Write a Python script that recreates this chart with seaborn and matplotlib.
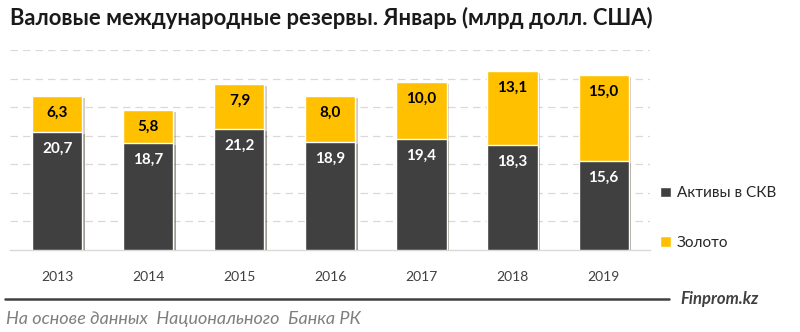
import matplotlib
matplotlib.use("Agg")
import matplotlib.pyplot as plt
import matplotlib.patheffects as pe
import seaborn as sns
import pandas as pd
import numpy as np

years = ["2013", "2014", "2015", "2016", "2017", "2018", "2019"]
assets = [20.7, 18.7, 21.2, 18.9, 19.4, 18.3, 15.6]
gold = [6.3, 5.8, 7.9, 8.0, 10.0, 13.1, 15.0]
series_names = ["Активы в СКВ", "Золото"]
title = "Валовые международные резервы. Январь (млрд долл. США)"
source = "На основе данных  Национального  Банка РК"
brand = "Finprom.kz"

c_dark = "#404040"
c_gold = "#FFC000"

sns.set_theme(style="white")
plt.rcParams["font.family"] = ["Lato", "DejaVu Sans"]

df = pd.DataFrame({"year": years, "assets": assets, "gold": gold})
df["total"] = df["assets"] + df["gold"]

fig = plt.figure(figsize=(8, 3.32), dpi=100)
ax = fig.add_axes([0.0125, 0.247, 0.80, 0.602])

shadow = [pe.SimplePatchShadow(offset=(2, -1.5), alpha=0.25), pe.Normal()]

sns.barplot(data=df, x="year", y="total", color=c_gold, width=0.55,
            saturation=1, ax=ax, label=series_names[1], zorder=3)
sns.barplot(data=df, x="year", y="assets", color=c_dark, width=0.55,
            saturation=1, ax=ax, label=series_names[0], zorder=4)
for p in ax.patches:
    p.set_path_effects(shadow)

for i in range(len(years)):
    ax.annotate(f"{assets[i]:.1f}".replace(".", ","), (i, assets[i]),
                xytext=(0, -7), textcoords="offset points", ha="center", va="top",
                color="white", fontsize=11, fontweight="bold", zorder=6)
    ax.annotate(f"{gold[i]:.1f}".replace(".", ","), (i, assets[i] + gold[i]),
                xytext=(0, -7), textcoords="offset points", ha="center", va="top",
                color="black", fontsize=11, fontweight="bold", zorder=6)

ax.set_ylim(0, 35)
ax.set_xlim(-0.52, 6.51)
ax.set_yticks(np.arange(5, 36, 5))
ax.yaxis.grid(True, color="#D9D9D9", linestyle=(0, (6, 4)), linewidth=0.9, zorder=0)
ax.set_axisbelow(True)
ax.tick_params(axis="y", left=False, labelleft=False)
ax.tick_params(axis="x", bottom=False, labelsize=10, colors="#404040", pad=9)
ax.set_xlabel("")
ax.set_ylabel("")
for s in ["top", "left", "right"]:
    ax.spines[s].set_visible(False)
ax.spines["bottom"].set_color("#D9D9D9")
ax.spines["bottom"].set_linewidth(1)

handles, labels = ax.get_legend_handles_labels()
order = [labels.index(series_names[0]), labels.index(series_names[1])]
leg = ax.legend([handles[k] for k in order], [labels[k] for k in order],
                loc="upper left", bbox_to_anchor=(0.808, 0.48), bbox_transform=fig.transFigure,
                frameon=False, fontsize=11, handlelength=0.7, handleheight=0.7,
                handletextpad=0.4, labelspacing=2.3)
for h in leg.legend_handles:
    h.set_path_effects([])

fig.text(0.013, 0.945, title, fontsize=15.8, fontweight="bold", color="#1a1a1a",
         ha="left", va="center")

fig.add_artist(plt.Line2D([0.006, 0.836], [0.1, 0.1], transform=fig.transFigure,
                          color="#404040", linewidth=1.8))
fig.text(0.85, 0.1, brand, fontsize=12, fontweight="bold", fontstyle="italic",
         color="#404040", ha="left", va="center")
fig.text(0.008, 0.04, source, fontsize=13, fontstyle="italic", color="#7f7f7f",
         ha="left", va="center")

fig.savefig("out.png", dpi=100)
